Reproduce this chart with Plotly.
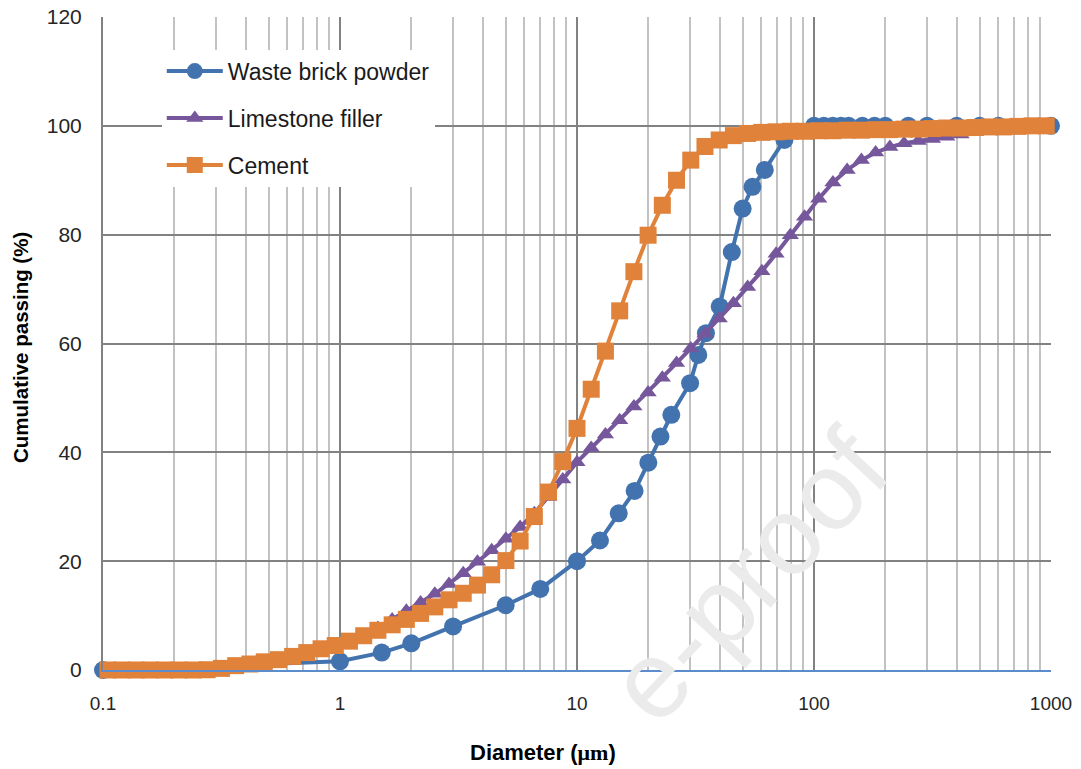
import plotly.graph_objects as go

# Particle size distributions (cumulative passing, %)
waste_brick_d = [0.1, 1, 1.5, 2, 3, 5, 7, 10, 12.5, 15, 17.5, 20, 22.5, 25, 30,
                 32.5, 35, 40, 45, 50, 55, 62, 75, 100, 110, 120, 130, 140, 160,
                 180, 200, 250, 300, 400, 500, 600, 1000]
waste_brick_pass = [0, 1.6, 3.2, 4.9, 8.0, 11.9, 14.9, 20.0, 23.8, 28.8, 32.9, 38.1,
                    42.9, 46.9, 52.7, 57.9, 61.9, 66.8, 76.8, 84.8, 88.8, 91.9, 97.4,
                    100, 100, 100, 100, 100, 100, 100, 100, 100, 100, 100, 100, 100, 100]

laser_d = [0.105, 0.120, 0.138, 0.158, 0.182, 0.209, 0.240, 0.275, 0.316, 0.363,
           0.417, 0.479, 0.550, 0.631, 0.724, 0.832, 0.955, 1.096, 1.259, 1.445,
           1.660, 1.905, 2.188, 2.512, 2.884, 3.311, 3.802, 4.365, 5.012, 5.754,
           6.607, 7.586, 8.710, 10.00, 11.48, 13.18, 15.14, 17.38, 19.95, 22.91,
           26.30, 30.20, 34.67, 39.81, 45.71, 52.48, 60.26, 69.18, 79.43, 91.20,
           104.7, 120.2, 138.0, 158.5, 182.0, 208.9, 239.9, 275.4, 316.2, 363.1,
           416.9, 478.6, 549.5, 631.0, 724.4, 831.8, 955.0]

limestone_pass = [0, 0, 0, 0, 0, 0, 0, 0, 0.1, 0.4,
                  0.7, 1.0, 1.4, 1.9, 2.5, 3.2, 4.0, 4.9, 6.2, 7.7,
                  9.3, 10.9, 12.4, 14.0, 15.8, 17.8, 19.9, 22.0, 24.1, 26.3,
                  28.8, 31.8, 35.0, 38.2, 40.8, 43.3, 45.9, 48.4, 51.0, 53.7,
                  56.4, 59.1, 61.8, 64.6, 67.4, 70.4, 73.3, 76.5, 79.9, 83.3,
                  86.6, 89.6, 91.9, 93.7, 95.1, 96.1, 96.8, 97.2, 97.6, 98.0,
                  98.4, 98.8, 99.1, 99.4, 99.7, 99.9, 100]

cement_pass = [0, 0, 0, 0, 0, 0, 0, 0.05, 0.3, 0.8,
               1.1, 1.5, 1.9, 2.5, 3.2, 3.9, 4.5, 5.3, 6.3, 7.3,
               8.3, 9.3, 10.4, 11.6, 12.9, 14.1, 15.6, 17.5, 20.1, 23.7,
               28.2, 32.7, 38.3, 44.4, 51.6, 58.6, 66.0, 73.2, 79.9, 85.4,
               90.0, 93.7, 96.2, 97.4, 98.2, 98.6, 98.8, 98.9, 99.0, 99.0,
               99.1, 99.1, 99.2, 99.2, 99.3, 99.3, 99.4, 99.4, 99.5, 99.6,
               99.6, 99.7, 99.8, 99.8, 99.9, 100, 100]

BLUE = "#4373AE"
PURPLE = "#76579B"
ORANGE = "#E0823A"
GRID_MAJOR = "#828282"
GRID_MINOR = "#C2C2C2"
FONT = "Liberation Sans"

fig = go.Figure()
fig.add_trace(go.Scatter(
    x=waste_brick_d, y=waste_brick_pass, name="Waste brick powder",
    mode="lines+markers", legendgroup="a", cliponaxis=False,
    line=dict(color=BLUE, width=4),
    marker=dict(symbol="circle", size=18, color=BLUE)))
fig.add_trace(go.Scatter(
    x=laser_d, y=limestone_pass, name="Limestone filler",
    mode="lines+markers", legendgroup="b", cliponaxis=False,
    line=dict(color=PURPLE, width=4),
    marker=dict(symbol="triangle-up", size=15, color=PURPLE)))
fig.add_trace(go.Scatter(
    x=laser_d, y=cement_pass, name="Cement",
    mode="lines+markers", legendgroup="c", cliponaxis=False,
    line=dict(color=ORANGE, width=4),
    marker=dict(symbol="square", size=17, color=ORANGE)))

fig.update_layout(
    width=1081, height=769,
    margin=dict(l=103, r=30, t=17, b=99, autoexpand=False),
    paper_bgcolor="white", plot_bgcolor="white",
    font=dict(family=FONT, color="#262626"),
    showlegend=True,
    legend=dict(
        x=0.062, y=0.950, xanchor="left", yanchor="top",
        bgcolor="white", borderwidth=0,
        font=dict(family=FONT, size=23, color="#1a1a1a"),
        tracegroupgap=14, itemwidth=56,
    ),
    annotations=[
        # watermark
        dict(text="e-proof", xref="paper", yref="paper",
             x=0.68, y=0.145, xanchor="center", yanchor="middle",
             showarrow=False, textangle=-47,
             font=dict(family=FONT, size=110, color="#EBEBEB")),
        # axis titles
        dict(text="<b>Diameter (<span style='font-family:Liberation Serif'>μm</span>)</b>",
             xref="paper", yref="paper", x=0.464, y=0, yshift=-82,
             xanchor="center", yanchor="middle", showarrow=False,
             font=dict(family=FONT, size=22, color="#000000")),
        dict(text="<b>Cumulative passing (%)</b>",
             xref="paper", yref="paper", x=-0.0876, y=0.4946,
             xanchor="center", yanchor="middle", showarrow=False, textangle=-90,
             font=dict(family=FONT, size=20.5, color="#000000")),
    ],
)

fig.update_xaxes(
    type="log", range=[-1, 3], dtick=1, exponentformat="none",
    showgrid=True, gridcolor=GRID_MAJOR, gridwidth=2,
    minor=dict(dtick="D1", showgrid=True, gridcolor=GRID_MINOR, gridwidth=2, ticks=""),
    showline=True, linecolor="#5B8DCC", linewidth=2,
    ticks="", ticklabelstandoff=15, zeroline=False, automargin=False,
    tickfont=dict(family=FONT, size=19, color="#262626"),
)
fig.update_yaxes(
    range=[0, 120], dtick=20,
    showgrid=True, gridcolor=GRID_MAJOR, gridwidth=2,
    showline=True, linecolor=GRID_MAJOR, linewidth=2,
    ticks="", ticklabelstandoff=15, zeroline=False, automargin=False,
    tickfont=dict(family=FONT, size=21, color="#262626"),
)

fig.write_html("out.html")
